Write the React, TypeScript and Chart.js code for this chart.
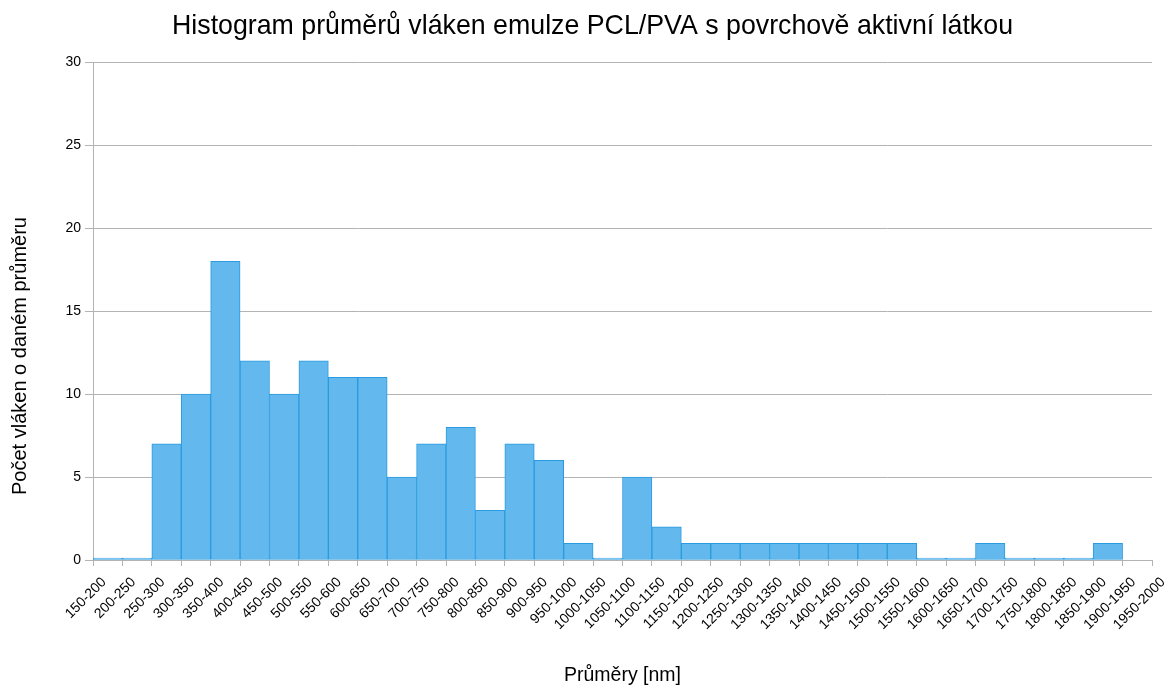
import React, { useEffect, useRef } from "react";
import { Chart, registerables } from "chart.js";

Chart.register(...registerables);

const TITLE = "Histogram průměrů vláken emulze PCL/PVA s povrchově aktivní látkou";
const X_TITLE = "Průměry [nm]";
const Y_TITLE = "Počet vláken o daném průměru";

const xTickLabels: string[] = [
  "150-200", "200-250", "250-300", "300-350", "350-400", "400-450", "450-500",
  "500-550", "550-600", "600-650", "650-700", "700-750", "750-800", "800-850",
  "850-900", "900-950", "950-1000", "1000-1050", "1050-1100", "1100-1150",
  "1150-1200", "1200-1250", "1250-1300", "1300-1350", "1350-1400", "1400-1450",
  "1450-1500", "1500-1550", "1550-1600", "1600-1650", "1650-1700", "1700-1750",
  "1750-1800", "1800-1850", "1850-1900", "1900-1950", "1950-2000",
];

// counts per bin (bin i lies between tick i and tick i+1)
const counts: number[] = [
  0, 0, 7, 10, 18, 12, 10, 12, 11, 11, 5, 7, 8, 3, 7, 6, 1, 0, 5, 2,
  1, 1, 1, 1, 1, 1, 1, 1, 0, 0, 1, 0, 0, 0, 1,
];

const yTicks = { min: 0, max: 30, step: 5 };

const FONT = "'Liberation Sans', Arial, sans-serif";

const yTitlePlugin = {
  id: "yTitleCustom",
  afterDraw(chart: any) {
    const ctx = chart.ctx;
    ctx.save();
    ctx.translate(20, 356);
    ctx.rotate(-Math.PI / 2);
    ctx.fillStyle = "#000";
    ctx.font = `20px ${FONT}`;
    ctx.textAlign = "center";
    ctx.textBaseline = "middle";
    ctx.fillText(Y_TITLE, 0, 0);
    ctx.restore();
  },
};

export default function App() {
  const ref = useRef<HTMLCanvasElement | null>(null);

  useEffect(() => {
    document.body.style.margin = "0";
    const canvas = ref.current;
    if (!canvas) return;
    const data = counts.map((v, i) => ({ x: i + 0.5, y: v }));
    const chart = new Chart(canvas, {
      type: "bar",
      data: {
        datasets: [
          {
            data: data as any,
            backgroundColor: "#63b9ee",
            borderColor: "#2a9be0",
            borderWidth: 1,
            borderSkipped: false,
            barPercentage: 1,
            categoryPercentage: 1,
            minBarLength: 2,
          } as any,
        ],
      },
      plugins: [yTitlePlugin],
      options: {
        responsive: false,
        animation: false,
        layout: { padding: { left: 33, right: 21, top: 0, bottom: 0 } },
        plugins: {
          legend: { display: false },
          tooltip: { enabled: false },
          title: {
            display: true,
            text: TITLE,
            color: "#000",
            font: { family: FONT, size: 26.75, weight: "normal" },
            padding: { top: 11, bottom: 19 },
          },
        },
        scales: {
          x: {
            type: "linear",
            min: 0,
            max: xTickLabels.length - 1,
            offset: false,
            ticks: {
              stepSize: 1,
              autoSkip: false,
              minRotation: 45,
              maxRotation: 45,
              color: "#000",
              font: { family: FONT, size: 14 },
              padding: 8,
              labelOffset: 11,
              callback: (value: any) => xTickLabels[Number(value)] ?? "",
            },
            grid: {
              offset: false,
              drawOnChartArea: false,
              drawTicks: true,
              tickLength: 6,
              color: "#b3b3b3",
            },
            border: { display: true, color: "#b3b3b3" },
            title: {
              display: true,
              text: X_TITLE,
              color: "#000",
              font: { family: FONT, size: 19.5 },
              padding: { top: 4, bottom: 1 },
            },
            afterFit: (scale: any) => {
              scale.height = 128;
            },
          },
          y: {
            min: yTicks.min,
            max: yTicks.max,
            ticks: {
              stepSize: yTicks.step,
              color: "#000",
              font: { family: FONT, size: 14 },
              padding: 4,
            },
            grid: {
              color: "#b3b3b3",
              tickLength: 8,
              drawTicks: true,
            },
            border: { display: true, color: "#b3b3b3" },
            title: { display: false },
            afterFit: (scale: any) => {
              scale.width = 60;
            },
          },
        },
      },
    });
    return () => chart.destroy();
  }, []);

  return (
    <div style={{ width: 1173, height: 688, background: "#fff" }}>
      <canvas ref={ref} width={1173} height={688} style={{ display: "block" }} />
    </div>
  );
}
